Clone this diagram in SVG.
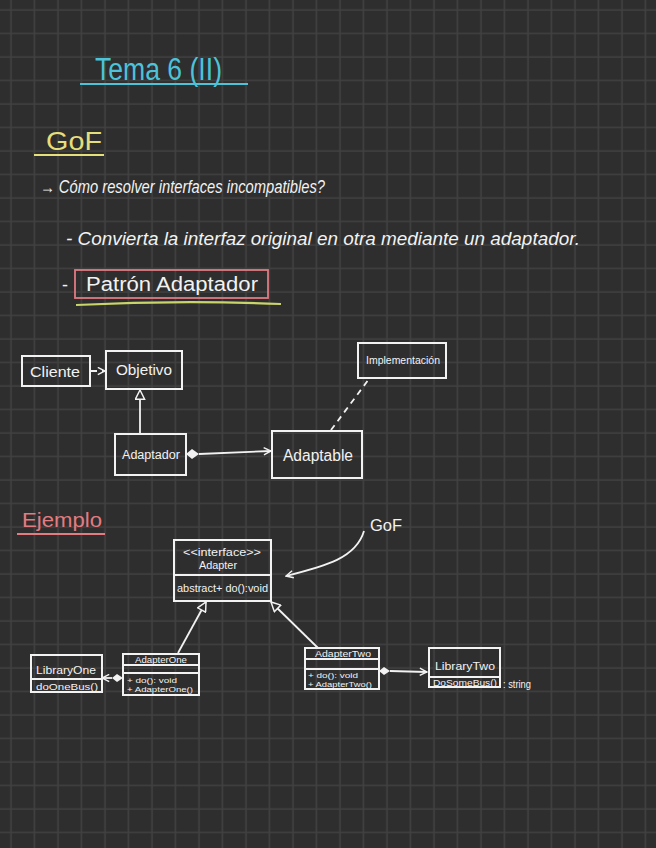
<svg xmlns="http://www.w3.org/2000/svg" width="656" height="848" viewBox="0 0 656 848">
<defs>
<pattern id="grid" patternUnits="userSpaceOnUse" x="0" y="0" width="23.5" height="23.5">
<rect width="23.5" height="23.5" fill="#2e2e2e"/>
<path d="M11 0V23.5M0 10H23.5" stroke="#414141" stroke-width="1.6"/>
</pattern>
<marker id="open" viewBox="0 0 10 10" refX="9" refY="5" markerWidth="9" markerHeight="9" orient="auto" markerUnits="userSpaceOnUse">
<path d="M1 1L9 5L1 9" fill="none" stroke="#f2f2f2" stroke-width="1.6"/>
</marker>
<marker id="tri" viewBox="0 0 12 12" refX="11" refY="6" markerWidth="11" markerHeight="11" orient="auto" markerUnits="userSpaceOnUse">
<path d="M1 1L11 6L1 11Z" fill="#2e2e2e" stroke="#f2f2f2" stroke-width="1.6"/>
</marker>
</defs>
<style>
.w{fill:#f2f2f2;font-family:"Liberation Sans","DejaVu Sans",sans-serif}
.box{fill:none;stroke:#f2f2f2;stroke-width:2}
.ln{fill:none;stroke:#f2f2f2;stroke-width:1.8}
.dash{stroke-dasharray:6 5}
.dia{fill:#f2f2f2}
</style>
<rect width="656" height="848" fill="url(#grid)"/>

<g id="title">
<text x="95" y="80" font-size="31" fill="#4cc3d8" font-family="Liberation Sans, sans-serif" textLength="127" lengthAdjust="spacingAndGlyphs">Tema 6 (II)</text>
<line x1="80" y1="84" x2="248" y2="84" stroke="#4cc3d8" stroke-width="2.2"/>
</g>
<g id="gof-heading">
<text x="46" y="150" font-size="25" fill="#e4df7a" font-family="Liberation Sans, sans-serif" textLength="56" lengthAdjust="spacingAndGlyphs">GoF</text>
<line x1="34" y1="155" x2="104" y2="155" stroke="#e4df7a" stroke-width="2.2"/>
</g>
<g id="notes">
<text class="w" x="40" y="193" font-size="18" font-style="italic" textLength="285" lengthAdjust="spacingAndGlyphs">→ Cómo resolver interfaces incompatibles?</text>
<text class="w" x="66" y="245" font-size="18" font-style="italic" textLength="514" lengthAdjust="spacingAndGlyphs">- Convierta la interfaz original en otra mediante un adaptador.</text>
<text class="w" x="62" y="291" font-size="18">-</text>
<rect x="75" y="270" width="193" height="28" fill="none" stroke="#e07a82" stroke-width="1.8"/>
<text class="w" x="86" y="291" font-size="20" textLength="172" lengthAdjust="spacingAndGlyphs">Patrón   Adaptador</text>
<path d="M76 305Q180 300 281 304" fill="none" stroke="#c9d46a" stroke-width="2.2"/>
</g>

<g id="connectors">
<line class="ln dash" x1="91" y1="371" x2="105" y2="371" marker-end="url(#open)"/>
<line class="ln" x1="140" y1="434" x2="140" y2="390" marker-end="url(#tri)"/>
<path class="dia" d="M186 454L192 449L199 454L192 459Z"/>
<line class="ln" x1="199" y1="454" x2="271" y2="451" marker-end="url(#open)"/>
<line class="ln dash" x1="331" y1="430" x2="369" y2="379"/>
<path class="ln" d="M364 531C356 558 326 566 286 576" marker-end="url(#open)"/>
<line class="ln" x1="178" y1="653" x2="206" y2="602" marker-end="url(#tri)"/>
<line class="ln" x1="318" y1="648" x2="271" y2="602" marker-end="url(#tri)"/>
<path class="dia" d="M112 678L117 674L123 678L117 682Z"/>
<line class="ln" x1="112" y1="678" x2="102" y2="678" marker-end="url(#open)"/>
<path class="dia" d="M379 671L384 667L390 671L384 675Z"/>
<line class="ln" x1="390" y1="671" x2="427" y2="672" marker-end="url(#open)"/>
</g>

<g id="cliente">
<rect class="box" x="22" y="356" width="68" height="30"/>
<text class="w" x="30" y="377" font-size="15" textLength="50" lengthAdjust="spacingAndGlyphs">Cliente</text>
</g>
<g id="objetivo">
<rect class="box" x="106" y="351" width="76" height="38"/>
<text class="w" x="116" y="375" font-size="15" textLength="56" lengthAdjust="spacingAndGlyphs">Objetivo</text>
</g>
<g id="implementacion">
<rect class="box" x="358" y="343" width="88" height="35"/>
<text class="w" x="366" y="364" font-size="11" textLength="74" lengthAdjust="spacingAndGlyphs">Implementación</text>
</g>
<g id="adaptador">
<rect class="box" x="115" y="434" width="71" height="41"/>
<text class="w" x="122" y="459" font-size="12" textLength="58" lengthAdjust="spacingAndGlyphs">Adaptador</text>
</g>
<g id="adaptable">
<rect class="box" x="272" y="431" width="90" height="47"/>
<text class="w" x="283" y="461" font-size="16" textLength="70" lengthAdjust="spacingAndGlyphs">Adaptable</text>
</g>

<g id="ejemplo">
<text x="22" y="527" font-size="20" fill="#e47b80" font-family="Liberation Sans, sans-serif" textLength="80" lengthAdjust="spacingAndGlyphs">Ejemplo</text>
<line x1="17" y1="534" x2="105" y2="534" stroke="#e47b80" stroke-width="2"/>
</g>
<g id="gof-note">
<text class="w" x="370" y="531" font-size="16" textLength="32" lengthAdjust="spacingAndGlyphs">GoF</text>
</g>

<g id="adapter-interface">
<rect class="box" x="174" y="540" width="97" height="61"/>
<line class="ln" x1="174" y1="575" x2="271" y2="575"/>
<text class="w" x="183" y="556" font-size="10" textLength="78" lengthAdjust="spacingAndGlyphs">&lt;&lt;interface&gt;&gt;</text>
<text class="w" x="199" y="569" font-size="10" textLength="38" lengthAdjust="spacingAndGlyphs">Adapter</text>
<text class="w" x="177" y="592" font-size="10" textLength="91" lengthAdjust="spacingAndGlyphs">abstract+ do():void</text>
</g>
<g id="library-one">
<rect class="box" x="31" y="655" width="71" height="37"/>
<line class="ln" x1="31" y1="679" x2="102" y2="679"/>
<text class="w" x="36" y="674" font-size="11" textLength="60" lengthAdjust="spacingAndGlyphs">LibraryOne</text>
<text class="w" x="36" y="690" font-size="9" textLength="62" lengthAdjust="spacingAndGlyphs">doOneBus()</text>
</g>
<g id="adapter-one">
<rect class="box" x="123" y="654" width="76" height="41"/>
<line class="ln" x1="123" y1="665" x2="199" y2="665"/>
<line class="ln" x1="123" y1="673" x2="199" y2="673"/>
<text class="w" x="135" y="663" font-size="9" textLength="52" lengthAdjust="spacingAndGlyphs">AdapterOne</text>
<text class="w" x="127" y="683" font-size="8" textLength="50" lengthAdjust="spacingAndGlyphs">+ do(): void</text>
<text class="w" x="127" y="692" font-size="8" textLength="66" lengthAdjust="spacingAndGlyphs">+ AdapterOne()</text>
</g>
<g id="adapter-two">
<rect class="box" x="305" y="648" width="74" height="41"/>
<line class="ln" x1="305" y1="659" x2="379" y2="659"/>
<line class="ln" x1="305" y1="669" x2="379" y2="669"/>
<text class="w" x="315" y="657" font-size="9" textLength="56" lengthAdjust="spacingAndGlyphs">AdapterTwo</text>
<text class="w" x="308" y="678" font-size="8" textLength="50" lengthAdjust="spacingAndGlyphs">+ do(): void</text>
<text class="w" x="308" y="687" font-size="8" textLength="64" lengthAdjust="spacingAndGlyphs">+ AdapterTwo()</text>
</g>
<g id="library-two">
<rect class="box" x="429" y="648" width="71" height="39"/>
<line class="ln" x1="429" y1="677" x2="500" y2="677"/>
<text class="w" x="435" y="670" font-size="11" textLength="60" lengthAdjust="spacingAndGlyphs">LibraryTwo</text>
<text class="w" x="433" y="686" font-size="9" textLength="64" lengthAdjust="spacingAndGlyphs">DoSomeBus()</text>
<text class="w" x="503" y="688" font-size="10" textLength="28" lengthAdjust="spacingAndGlyphs">: string</text>
</g>
</svg>
